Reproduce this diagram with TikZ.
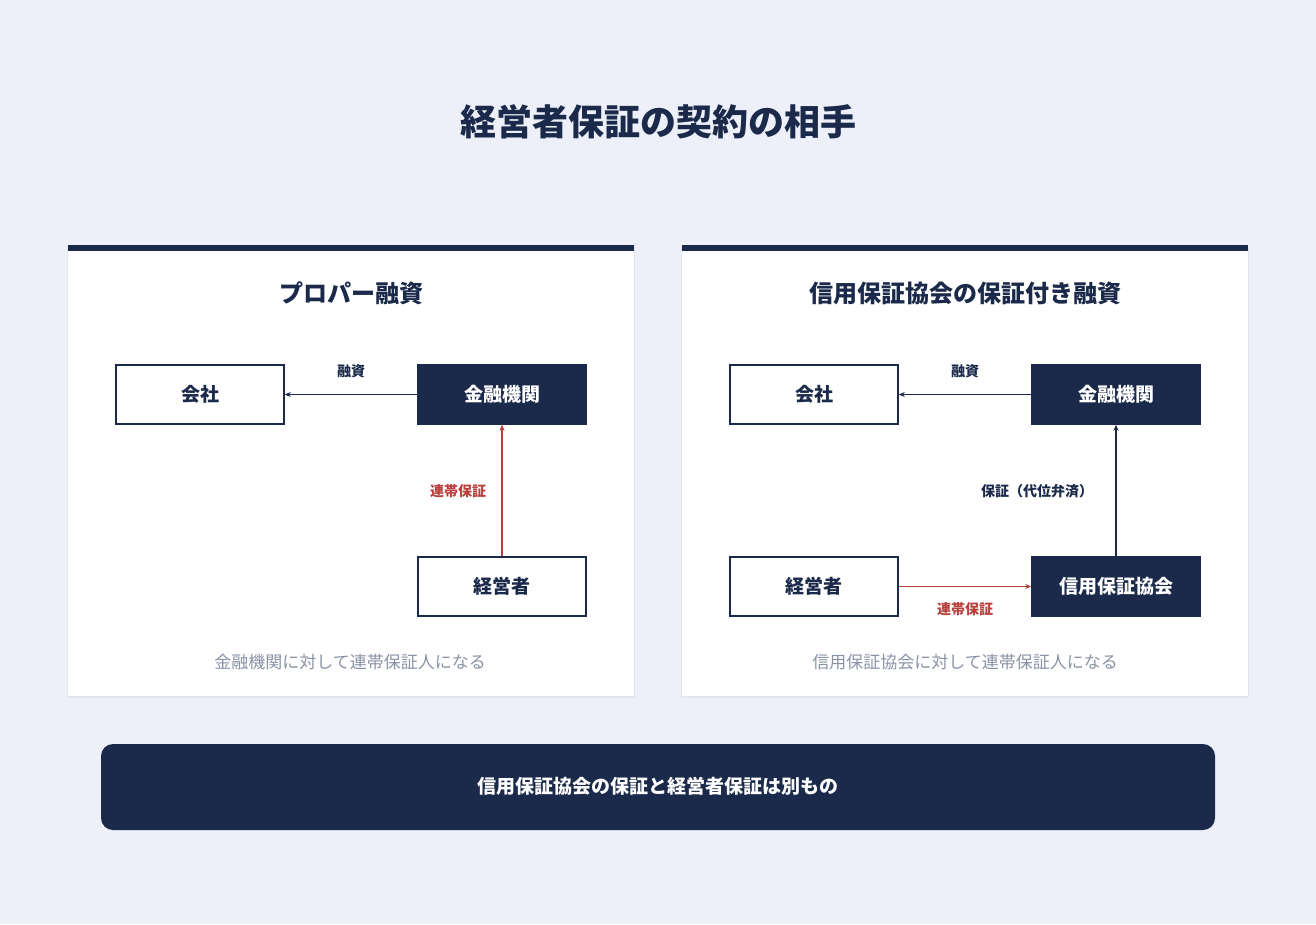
\documentclass[tikz,border=0pt]{standalone}
\usepackage{fontspec}
\setmainfont{Noto Sans CJK JP}
\usetikzlibrary{arrows.meta}
\definecolor{bg}{HTML}{EDF0F8}
\definecolor{navy}{HTML}{1B2A4A}
\definecolor{rd}{HTML}{B8403C}
\definecolor{gr}{HTML}{8A93A6}
\begin{document}
\begin{tikzpicture}[x=1pt,y=-1pt,
 box/.style={draw=navy,line width=1.5pt,minimum width=168pt,minimum height=59pt,font=\fontsize{19}{19}\selectfont\bfseries,text=navy,fill=white},
 dbox/.style={box,fill=navy,text=white},
 arr/.style={-{Stealth[length=6pt,width=5pt]},line width=1.2pt,draw=navy},
 rarr/.style={arr,draw=rd},
 lab/.style={font=\fontsize{14}{14}\selectfont\bfseries,text=navy},
 rlab/.style={lab,text=rd},
 captxt/.style={font=\fontsize{17}{17}\selectfont,text=gr},
 ptitle/.style={font=\fontsize{24}{24}\selectfont\bfseries,text=navy}]
\fill[bg] (0,0) rectangle (1316,924);
\useasboundingbox (0,0) rectangle (1316,924);
\node[font=\fontsize{36}{36}\selectfont\bfseries,text=navy] (title) at (658,122) {経営者保証の契約の相手};
% panels
\foreach \x in {68,682}{
 \fill[black,opacity=0.04] (\x-1,246) rectangle (\x+567,698);
 \fill[white] (\x,245) rectangle (\x+566,696);
 \fill[navy] (\x,245) rectangle (\x+566,251);}
\node[ptitle] (t1) at (351,293) {プロパー融資};
\node[ptitle] (t2) at (965,293) {信用保証協会の保証付き融資};
% left
\node[box] (a1) at (200,394.5) {会社};
\node[dbox] (b1) at (502,394.5) {金融機関};
\node[box] (c1) at (502,586.5) {経営者};
\draw[arr] (b1.west) -- (a1.east);
\node[lab] (l1) at (351,371) {融資};
\draw[rarr] (c1.north) -- (b1.south);
\node[rlab] (l2) at (458,491) {連帯保証};
\node[captxt] (k1) at (350,662) {金融機関に対して連帯保証人になる};
% right
\node[box] (a2) at (814,394.5) {会社};
\node[dbox] (b2) at (1116,394.5) {金融機関};
\node[box] (c2) at (814,586.5) {経営者};
\node[dbox] (d2) at (1116,586.5) {信用保証協会};
\draw[arr] (b2.west) -- (a2.east);
\node[lab] (l3) at (965,371) {融資};
\draw[arr] (d2.north) -- (b2.south);
\node[lab] (l4) at (1037,491) {保証（代位弁済）};
\draw[rarr] (c2.east) -- (d2.west);
\node[rlab] (l5) at (965,609) {連帯保証};
\node[captxt] (k2) at (965,662) {信用保証協会に対して連帯保証人になる};
% bottom
\fill[navy,rounded corners=12pt] (101,744) rectangle (1215,830);
\node[font=\fontsize{19}{19}\selectfont\bfseries,text=white] (bt) at (658,786) {信用保証協会の保証と経営者保証は別もの};
\end{tikzpicture}
\end{document}
